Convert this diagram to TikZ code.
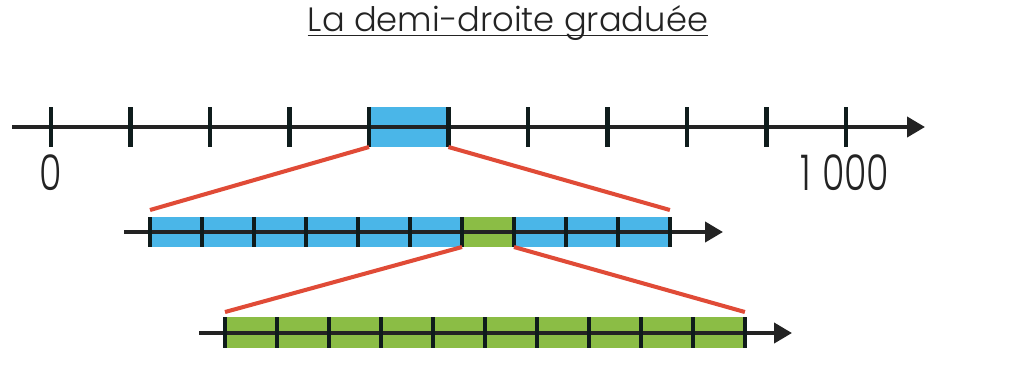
\documentclass[tikz,border=0pt]{standalone}
\usepackage{fontspec}
\usetikzlibrary{arrows.meta}
\IfFontExistsTF{Poppins Light}
  {\newfontfamily\titlefont{Poppins Light}
   \newfontfamily\numfont{Poppins Light}[FakeStretch=0.74]}
  {\newfontfamily\titlefont{Poppins}
   \newfontfamily\numfont{Poppins}[FakeStretch=0.74]}
\definecolor{skyblue}{RGB}{74,182,232}
\definecolor{leafgreen}{RGB}{139,189,69}
\definecolor{linkred}{RGB}{224,75,55}
\definecolor{axisgray}{RGB}{35,35,35}
\definecolor{tickdark}{RGB}{15,28,28}
\begin{document}
\begin{tikzpicture}[x=0.02cm,y=-0.02cm,
    axisline/.style={line width=2.3pt,draw=axisgray,-{Triangle[length=0.36cm,width=0.4cm]}},
    tickmark/.style={line width=2.3pt,draw=tickdark},
    cellbox/.style={inner sep=0pt,outer sep=0pt,anchor=south west},
    zoomline/.style={line width=2.3pt,draw=linkred},
    numlabel/.style={font=\numfont\fontsize{28}{30}\selectfont,text=axisgray,inner sep=0pt}]
	\useasboundingbox (0,0) rectangle (1016,387);
	% titre
	\node[font=\titlefont\fontsize{19.2}{21}\selectfont,text=axisgray,inner sep=0pt] (title) at (508,23) {La demi-droite graduée};
	\draw[line width=1pt,axisgray] ([yshift=-0.08cm]title.base west) -- ([yshift=-0.08cm]title.base east);
	% demi-droite 0 -- 1 000
	\node[cellbox,fill=skyblue,minimum width=1.59cm,minimum height=0.8cm] (topcell) at (369,147) {};
	\coordinate (topstart) at (12,127);
	\coordinate (topend) at (925,127);
	\draw[axisline] (topstart) -- (topend);
	\foreach \i in {0,...,10}
		\draw[tickmark] (51+79.5*\i,107) -- (51+79.5*\i,147);
	\node[numlabel] (zero) at (51,173) {0};
	\node[numlabel] (mille) at (845,173) {1\hspace{0.22em}000};
	% premier zoom
	\node[cellbox,fill=skyblue,minimum width=10.4cm,minimum height=0.6cm] (midbar) at (150,247) {};
	\node[cellbox,fill=leafgreen,minimum width=1.04cm,minimum height=0.6cm] (midcell) at (462,247) {};
	\coordinate (midstart) at (124,232);
	\coordinate (midend) at (723,232);
	\draw[axisline] (midstart) -- (midend);
	\foreach \i in {0,...,10}
		\draw[tickmark] (150+52*\i,217) -- (150+52*\i,247);
	\draw[zoomline] (topcell.south west) -- ([yshift=0.14cm]midbar.north west);
	\draw[zoomline] (topcell.south east) -- ([yshift=0.14cm]midbar.north east);
	% second zoom
	\node[cellbox,fill=leafgreen,minimum width=10.4cm,minimum height=0.62cm] (lowbar) at (225,348) {};
	\coordinate (lowstart) at (199,333);
	\coordinate (lowend) at (792,333);
	\draw[axisline] (lowstart) -- (lowend);
	\foreach \i in {0,...,10}
		\draw[tickmark] (225+52*\i,317) -- (225+52*\i,348);
	\draw[zoomline] (midcell.south west) -- ([yshift=0.1cm]lowbar.north west);
	\draw[zoomline] (midcell.south east) -- ([yshift=0.1cm]lowbar.north east);
\end{tikzpicture}
\end{document}
